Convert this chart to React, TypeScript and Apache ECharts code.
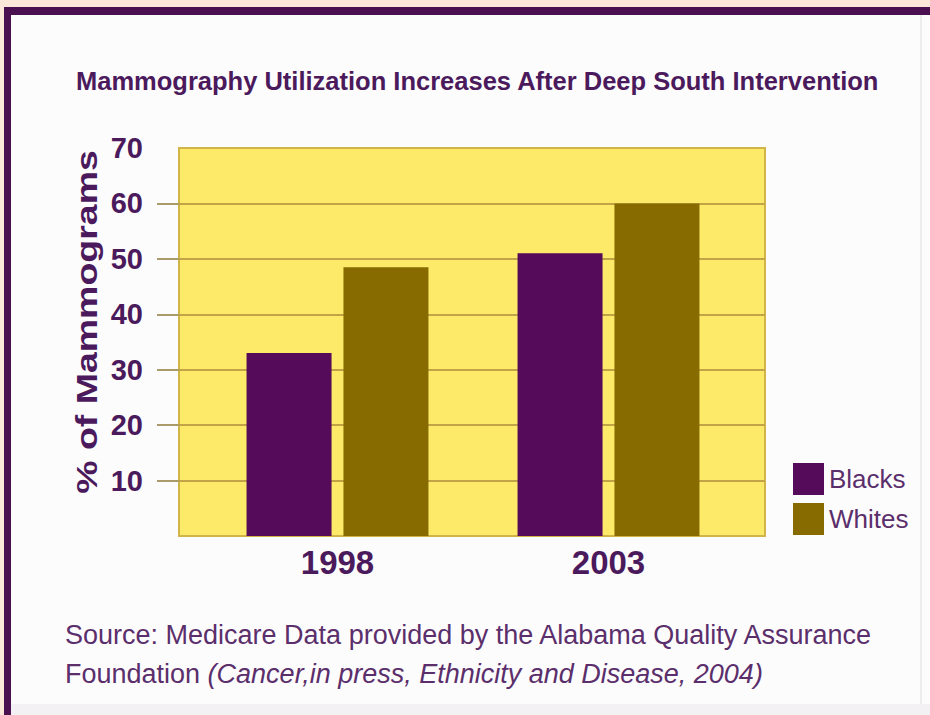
import React, { useEffect, useRef } from "react";
import * as echarts from "echarts";

const categories = ["1998", "2003"];
const blacks = [33, 51];
const whites = [48.5, 60];
const labelValues = [10, 20, 30, 40, 50, 60, 70];
const tickValues = [10, 20, 30, 40, 50, 60];
const titleText = "Mammography Utilization Increases After Deep South Intervention";
const yName = "% of Mammograms";
const sourceLine1 = "Source: Medicare Data provided by the Alabama Quality Assurance";
const sourceLine2a = "Foundation ";
const sourceLine2b = "(Cancer,in press, Ethnicity and Disease, 2004)";

const PURPLE_TEXT = "#4b1a5c";
const SOURCE_TEXT = "#5b2f6b";
const BAR_PURPLE = "#560a5a";
const BAR_OLIVE = "#876a00";

export default function App() {
  const ref = useRef<HTMLDivElement>(null);
  useEffect(() => {
    if (!ref.current) return;
    const chart = echarts.init(ref.current, null, { renderer: "svg" });
    const option: any = {
      animation: false,
      backgroundColor: "#fdfcfd",
      title: {
        text: titleText,
        left: 76,
        top: 68,
        padding: 0,
        textStyle: {
          fontFamily: "Liberation Sans",
          fontWeight: "bold",
          fontSize: 25.5,
          color: PURPLE_TEXT,
        },
      },
      legend: {
        orient: "vertical",
        left: 793,
        top: 463,
        itemWidth: 31,
        itemHeight: 32,
        itemGap: 8,
        padding: 0,
        icon: "rect",
        textStyle: {
          fontFamily: "Liberation Sans",
          fontSize: 26,
          color: SOURCE_TEXT,
        },
        data: ["Blacks", "Whites"],
      },
      grid: [
        {
          left: 179,
          top: 148,
          width: 586,
          height: 388,
          show: true,
          backgroundColor: "#fcea68",
          borderColor: "#d2b548",
          borderWidth: 2,
          containLabel: false,
        },
        {
          left: 202,
          top: 148,
          width: 542,
          height: 388,
          containLabel: false,
        },
      ],
      xAxis: [
        {
          gridIndex: 0,
          type: "category",
          data: categories,
          show: false,
        },
        {
          gridIndex: 1,
          type: "category",
          data: categories,
          axisLine: { show: false },
          axisTick: { show: false },
          axisLabel: {
            margin: 10,
            fontFamily: "Liberation Sans",
            fontWeight: "bold",
            fontSize: 33,
            color: PURPLE_TEXT,
          },
        },
      ],
      yAxis: [
        {
          gridIndex: 0,
          type: "value",
          min: 0,
          max: 70,
          interval: 10,
          axisLine: { show: false },
          axisTick: {
            show: true,
            length: 22,
            customValues: tickValues,
            lineStyle: { color: "#aa9c6a", width: 2 },
          },
          axisLabel: {
            customValues: labelValues,
            margin: 36,
            padding: [9, 0, 0, 0],
            fontFamily: "Liberation Sans",
            fontWeight: "bold",
            fontSize: 29,
            color: PURPLE_TEXT,
          },
          splitLine: {
            show: true,
            lineStyle: { color: "#c2a447", width: 2 },
          },
        },
        {
          gridIndex: 1,
          type: "value",
          min: 0,
          max: 70,
          interval: 10,
          show: false,
          splitLine: { show: false },
        },
      ],
      series: [
        {
          name: "Blacks",
          type: "bar",
          xAxisIndex: 1,
          yAxisIndex: 1,
          data: blacks,
          barWidth: 85,
          barGap: "14%",
          itemStyle: { color: BAR_PURPLE },
        },
        {
          name: "Whites",
          type: "bar",
          xAxisIndex: 1,
          yAxisIndex: 1,
          data: whites,
          barWidth: 85,
          barGap: "14%",
          itemStyle: { color: BAR_OLIVE },
        },
      ],
      graphic: [
        { type: "rect", shape: { x: 0, y: 0, width: 930, height: 7 }, style: { fill: "#fbe8d8" }, silent: true },
        { type: "rect", shape: { x: 0, y: 0, width: 4, height: 715 }, style: { fill: "#fbe8d8" }, silent: true },
        { type: "rect", shape: { x: 4, y: 7, width: 926, height: 8 }, style: { fill: "#4a1050" }, silent: true },
        { type: "rect", shape: { x: 4, y: 7, width: 7, height: 708 }, style: { fill: "#4a1050" }, silent: true },
        { type: "rect", shape: { x: 11, y: 704, width: 919, height: 11 }, style: { fill: "#f3f1f3" }, silent: true },
        { type: "rect", shape: { x: 920, y: 15, width: 2, height: 689 }, style: { fill: "#eeecee" }, silent: true },
        {
          type: "text",
          x: 86,
          y: 322,
          rotation: Math.PI / 2,
          scaleX: 1.25,
          style: {
            text: yName,
            font: "bold 30px 'Liberation Sans'",
            fill: PURPLE_TEXT,
            textAlign: "center",
            textVerticalAlign: "middle",
          },
        },
        {
          type: "text",
          x: 65,
          y: 635,
          style: {
            text: sourceLine1,
            font: "27px 'Liberation Sans'",
            fill: SOURCE_TEXT,
            textAlign: "left",
            textVerticalAlign: "middle",
          },
        },
        {
          type: "text",
          x: 65,
          y: 674,
          style: {
            text: "{a|" + sourceLine2a + "}{b|" + sourceLine2b + "}",
            textAlign: "left",
            textVerticalAlign: "middle",
            fill: SOURCE_TEXT,
            rich: {
              a: { fontFamily: "Liberation Sans", fontSize: 27, fill: SOURCE_TEXT },
              b: { fontFamily: "Liberation Sans", fontSize: 27, fontStyle: "italic", fill: SOURCE_TEXT },
            },
          },
        },
      ],
    };
    chart.setOption(option);
    return () => chart.dispose();
  }, []);
  return (
    <div
      ref={ref}
      style={{ position: "absolute", left: 0, top: 0, width: 930, height: 715 }}
    />
  );
}
